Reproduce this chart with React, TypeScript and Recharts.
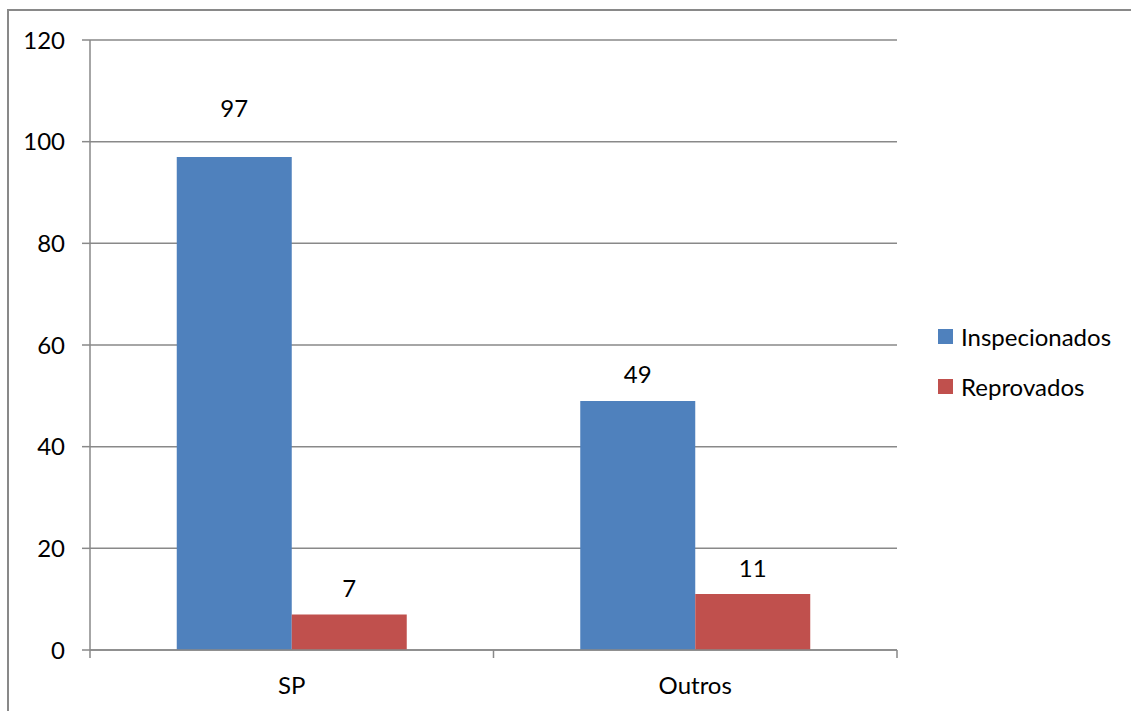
import React from "react";
import { BarChart, Bar, XAxis, YAxis, CartesianGrid, Legend, LabelList } from "recharts";

const categories = ["SP", "Outros"];
const inspecionados = [97, 49];
const reprovados = [7, 11];
const yTicks = [0, 20, 40, 60, 80, 100, 120];

const data = categories.map((name, i) => ({
  name,
  inspecionados: inspecionados[i],
  reprovados: reprovados[i],
}));

const FONT = "Lato, 'Noto Sans', sans-serif";
const FS = 24;
const GRAY = "#898989";
const CHART_W = 1123;
const CHART_H = 701;
const MARGIN = { top: 29, right: 35, bottom: 22, left: 21 };
const LEGEND_W = 200;
const Y_AXIS_W = 60;
const PLOT_W = CHART_W - MARGIN.left - MARGIN.right - LEGEND_W - Y_AXIS_W;

function XTick({ x, y, payload, index }: any) {
  const band = PLOT_W / categories.length;
  const last = index === categories.length - 1;
  return (
    <g>
      <line x1={x - band / 2} x2={x - band / 2} y1={y} y2={y + 8} stroke={GRAY} strokeWidth={1.5} />
      {last && <line x1={x + band / 2} x2={x + band / 2} y1={y} y2={y + 8} stroke={GRAY} strokeWidth={1.5} />}
      <text x={x} y={y + 34} textAnchor="middle" dominantBaseline="central" fontFamily={FONT} fontSize={FS} fill="#000">
        {payload.value}
      </text>
    </g>
  );
}

function BarValue({ x, y, width, value }: any) {
  // the tallest label sits higher in the original
  const lift = y < 200 ? 49 : 27;
  return (
    <text x={x + width / 2} y={y - lift} textAnchor="middle" dominantBaseline="central" fontFamily={FONT} fontSize={FS} fill="#000">
      {value}
    </text>
  );
}

function LegendBox({ payload }: any) {
  return (
    <div style={{ width: LEGEND_W, paddingLeft: 41, boxSizing: "border-box", fontFamily: FONT, fontSize: FS }}>
      {(payload ?? []).map((p: any) => (
        <div key={p.value} style={{ display: "flex", alignItems: "center", height: 50, whiteSpace: "nowrap" }}>
          <span style={{ width: 15, height: 15, flexShrink: 0, background: p.color, display: "inline-block", marginRight: 8 }} />
          <span style={{ color: "#000" }}>{p.value}</span>
        </div>
      ))}
    </div>
  );
}

export default function App() {
  return (
    <div
      style={{
        position: "absolute",
        left: 7,
        top: 9,
        width: 1124,
        height: 702,
        borderTop: `2px solid ${GRAY}`,
        borderLeft: `2px solid ${GRAY}`,
        background: "#fff",
        overflow: "hidden",
      }}
    >
      <BarChart width={CHART_W} height={CHART_H} data={data} margin={MARGIN} barGap={0} barCategoryGap="21.5%">
        <CartesianGrid vertical={false} stroke={GRAY} strokeWidth={1.5} />
        <XAxis
          dataKey="name"
          axisLine={{ stroke: GRAY, strokeWidth: 1.5 }}
          tickLine={false}
          tickSize={0}
          tickMargin={0}
          height={40}
          tick={<XTick />}
          interval={0}
        />
        <YAxis
          domain={[0, 120]}
          ticks={yTicks}
          width={Y_AXIS_W}
          axisLine={{ stroke: GRAY, strokeWidth: 1.5 }}
          tickLine={{ stroke: GRAY, strokeWidth: 1.5 }}
          tickSize={8}
          tickMargin={17}
          tick={{ fontFamily: FONT, fontSize: FS, fill: "#000" }}
        />
        <Legend
          layout="vertical"
          align="right"
          verticalAlign="middle"
          wrapperStyle={{ width: LEGEND_W }}
          content={<LegendBox />}
        />
        <Bar dataKey="inspecionados" name="Inspecionados" fill="#4F81BD" isAnimationActive={false}>
          <LabelList dataKey="inspecionados" content={<BarValue />} />
        </Bar>
        <Bar dataKey="reprovados" name="Reprovados" fill="#C0504D" isAnimationActive={false}>
          <LabelList dataKey="reprovados" content={<BarValue />} />
        </Bar>
      </BarChart>
    </div>
  );
}
